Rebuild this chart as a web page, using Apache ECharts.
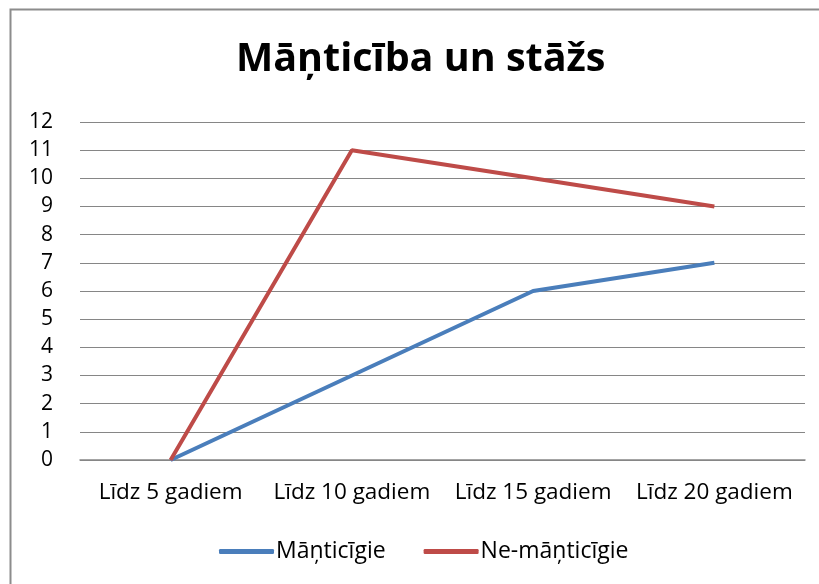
<!DOCTYPE html>
<html>
<head>
<meta charset="utf-8">
<script src="https://cdn.jsdelivr.net/npm/echarts@6/dist/echarts.min.js"></script>
<style>
  html, body { margin: 0; padding: 0; background: #fff; }
  #chart { width: 819px; height: 584px; }
</style>
</head>
<body>
<div id="chart"></div>
<script>
// dati no attēla
const categories = ['Līdz 5 gadiem', 'Līdz 10 gadiem', 'Līdz 15 gadiem', 'Līdz 20 gadiem'];
const manticigie = [0, 3, 6, 7];
const neManticigie = [0, 11, 10, 9];
const seriesNames = ['Māņticīgie', 'Ne-māņticīgie'];

const font = '"Open Sans", sans-serif';

let chart = echarts.init(document.getElementById('chart'));
let option = {
    animation: false,
    textStyle: { fontFamily: font },
    graphic: [{
        type: 'rect',
        shape: { x: 10.5, y: 9.5, width: 830, height: 600 },
        style: { fill: 'none', stroke: '#8c8c8c', lineWidth: 2 },
        silent: true
    }],
    title: {
        text: 'Māņticība un stāžs',
        left: 231,
        top: 35,
        textStyle: { fontFamily: font, fontSize: 39.5, fontWeight: 'bold', color: '#000' }
    },
    legend: {
        top: 535,
        left: 214,
        itemGap: 38,
        itemWidth: 55,
        itemHeight: 5,
        icon: 'roundRect',
        textStyle: { fontFamily: font, fontSize: 23, color: '#000', padding: [0, 0, 0, -3] },
        data: seriesNames
    },
    grid: { left: 80, right: 14, top: 122, bottom: 124, containLabel: false },
    xAxis: {
        type: 'category',
        data: categories,
        boundaryGap: true,
        axisLine: { lineStyle: { color: '#868686', width: 1.5 } },
        axisTick: { show: false },
        axisLabel: { interval: 0, fontFamily: font, fontSize: 22.5, color: '#000', margin: 21 }
    },
    yAxis: {
        type: 'value',
        min: 0,
        max: 12,
        interval: 1,
        axisLine: { show: false },
        axisTick: { show: false },
        splitLine: { lineStyle: { color: '#868686', width: 1.2 } },
        axisLabel: { fontFamily: font, fontSize: 21, color: '#000', margin: 27 }
    },
    series: [
        {
            name: seriesNames[0],
            type: 'line',
            data: manticigie,
            symbol: 'none',
            color: '#4a7ebb',
            lineStyle: { width: 4, color: '#4a7ebb' }
        },
        {
            name: seriesNames[1],
            type: 'line',
            data: neManticigie,
            symbol: 'none',
            color: '#be4b48',
            lineStyle: { width: 4, color: '#be4b48' }
        }
    ]
};
chart.setOption(option);
</script>
</body>
</html>
